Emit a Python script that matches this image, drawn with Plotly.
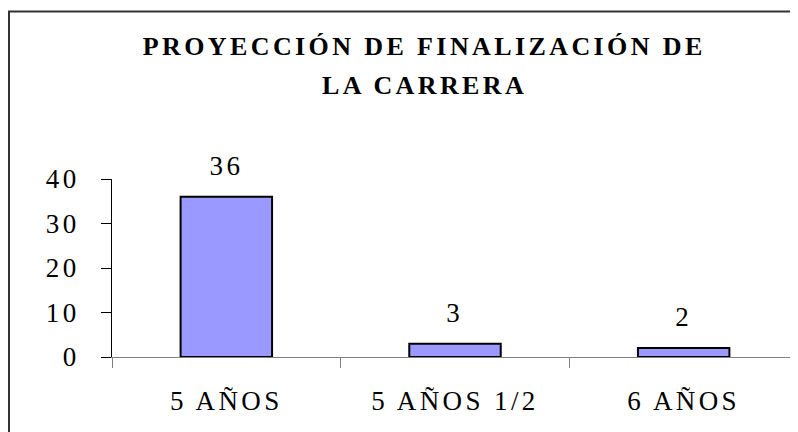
import plotly.graph_objects as go

categories = ["5 AÑOS", "5 AÑOS 1/2", "6 AÑOS"]
values = [36, 3, 2]
y_ticks = [0, 10, 20, 30, 40]
title_lines = ["PROYECCIÓN DE FINALIZACIÓN DE", "LA CARRERA"]

# page body has an 8px margin, so the figure starts at (8, 8)
W, H = 790, 424
ML, MR, MT, MB = 104, 0, 171, 75
pw = W - ML - MR
ph = H - MT - MB

FONT = "Liberation Serif"


def px2paper_x(px):
    return (px - ML) / pw


def px2paper_y(py):
    return (H - MB - py) / ph


fig = go.Figure()
fig.add_trace(go.Bar(
    x=categories, y=values, width=0.4,
    marker=dict(color="#9999FF", line=dict(color="black", width=2)),
))

for c, v in zip(categories, values):
    fig.add_annotation(x=c, y=v, text=str(v), showarrow=False,
                       xref="x", yref="y", yanchor="bottom", yshift=14,
                       font=dict(family=FONT, size=27, color="black"))

# chart title, two centred lines
title_centres_y = [38, 77]
for line, cy in zip(title_lines, title_centres_y):
    fig.add_annotation(x=px2paper_x(416), y=px2paper_y(cy), xref="paper", yref="paper",
                       xanchor="center", yanchor="middle", showarrow=False,
                       text="<b>" + line + "</b>",
                       font=dict(family=FONT, size=26, color="black"))

fig.add_shape(type="line", xref="paper", yref="paper",
              x0=px2paper_x(1), x1=px2paper_x(1), y0=px2paper_y(3), y1=px2paper_y(440),
              line=dict(color="#333333", width=2))
fig.add_shape(type="line", xref="paper", yref="paper",
              x0=px2paper_x(0), x1=px2paper_x(800), y0=px2paper_y(3.5), y1=px2paper_y(3.5),
              line=dict(color="#333333", width=2))

fig.update_layout(
    width=W, height=H,
    margin=dict(l=ML, r=MR, t=MT, b=MB),
    paper_bgcolor="white", plot_bgcolor="white",
    showlegend=False,
    xaxis=dict(type="category", tickson="boundaries", ticks="outside", ticklen=10,
               tickcolor="#808080", showline=True, linecolor="#808080", linewidth=1,
               showgrid=False, zeroline=False, ticklabelstandoff=20,
               tickfont=dict(family=FONT, size=27, color="black")),
    yaxis=dict(range=[0, 40], tickvals=y_ticks, ticks="outside", ticklen=10,
               tickcolor="black", showline=True, linecolor="black", linewidth=1,
               showgrid=False, zeroline=False, ticklabelstandoff=16,
               tickfont=dict(family=FONT, size=27, color="black")),
)

post = """
var gd = document.getElementById('{plot_id}');
function spacing() {
  gd.querySelectorAll('.xtick text, .ytick text, .annotation-text').forEach(function (t) {
    t.style.letterSpacing = '3.4px';
  });
}
spacing();
if (gd.on) { gd.on('plotly_afterplot', spacing); }
setTimeout(spacing, 50);
"""

fig.write_html("out.html", post_script=post)
